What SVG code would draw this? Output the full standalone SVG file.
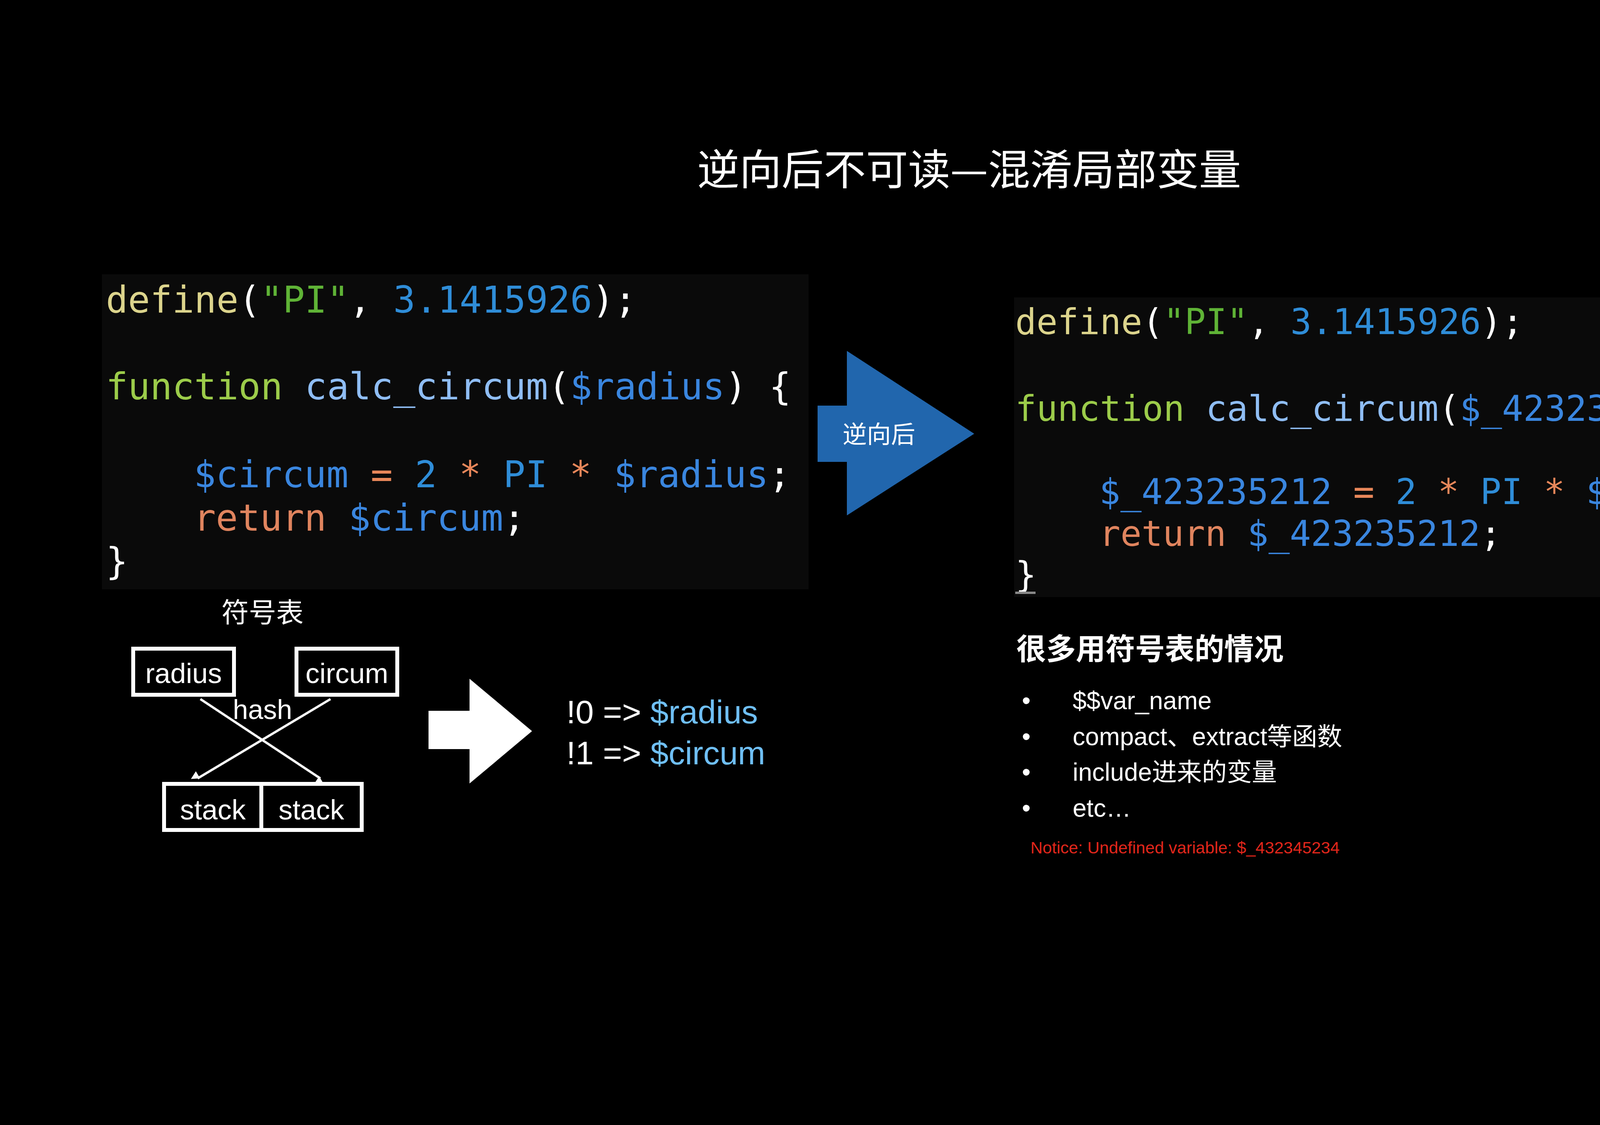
<svg xmlns="http://www.w3.org/2000/svg" width="5119" height="2879" viewBox="0 0 5119 2879">
<style>
.code{font-family:"DejaVu Sans Mono","Liberation Mono",monospace;white-space:pre}
.c1{font-size:94px}.c2{font-size:90px}
.w{fill:#ffffff}.def{fill:#dcd48c}.str{fill:#5fb336}.num{fill:#2f8dd8}.kw{fill:#9ccc4a}.fn{fill:#8fbdf4}.var{fill:#3a86df}.op{fill:#e8875a}.ret{fill:#e0845e}
.sans{font-family:"Liberation Sans","Noto Sans CJK SC",sans-serif}
.cjk{font-family:"Noto Sans CJK SC","Liberation Sans",sans-serif}
.box{fill:#000;stroke:#fff;stroke-width:10}
.lbl{font-size:72px;fill:#fff;text-anchor:middle}
</style>
<defs>
<marker id="ah" viewBox="0 0 10 10" refX="9" refY="5" markerWidth="6" markerHeight="6" orient="auto" markerUnits="userSpaceOnUse" style="overflow:visible">
<path d="M0,0 L10,5 L0,10 z" fill="#fff" transform="scale(3.5)"/>
</marker>
</defs>
<rect width="5119" height="2879" fill="#000"/>
<text id="title" x="2481" y="473" class="cjk" font-size="108" fill="#fff" text-anchor="middle">逆向后不可读—混淆局部变量</text>

<g id="code-left">
<rect x="261" y="702" width="1809" height="806" fill="#0a0a0a"/>
<text class="code c1" x="271" y="800"><tspan class="def">define</tspan><tspan class="w">(</tspan><tspan class="str">"PI"</tspan><tspan class="w">, </tspan><tspan class="num">3.1415926</tspan><tspan class="w">);</tspan></text>
<text class="code c1" x="271" y="1022"><tspan class="kw">function</tspan><tspan class="w"> </tspan><tspan class="fn">calc_circum</tspan><tspan class="w">(</tspan><tspan class="var">$radius</tspan><tspan class="w">) {</tspan></text>
<text class="code c1" x="496" y="1247"><tspan class="var">$circum</tspan><tspan class="w"> </tspan><tspan class="op">=</tspan><tspan class="w"> </tspan><tspan class="num">2</tspan><tspan class="w"> </tspan><tspan class="op">*</tspan><tspan class="w"> </tspan><tspan class="num">PI</tspan><tspan class="w"> </tspan><tspan class="op">*</tspan><tspan class="w"> </tspan><tspan class="var">$radius</tspan><tspan class="w">;</tspan></text>
<text class="code c1" x="496" y="1358"><tspan class="ret">return</tspan><tspan class="w"> </tspan><tspan class="var">$circum</tspan><tspan class="w">;</tspan></text>
<text class="code c1 w" x="271" y="1469">}</text>
</g>

<g id="code-right">
<rect x="2596" y="761" width="2138" height="767" fill="#0a0a0a"/>
<text class="code c2" x="2599" y="855"><tspan class="def">define</tspan><tspan class="w">(</tspan><tspan class="str">"PI"</tspan><tspan class="w">, </tspan><tspan class="num">3.1415926</tspan><tspan class="w">);</tspan></text>
<text class="code c2" x="2599" y="1077"><tspan class="kw">function</tspan><tspan class="w"> </tspan><tspan class="fn">calc_circum</tspan><tspan class="w">(</tspan><tspan class="var">$_423235211</tspan><tspan class="w">) {</tspan></text>
<text class="code c2" x="2814" y="1290"><tspan class="var">$_423235212</tspan><tspan class="w"> </tspan><tspan class="op">=</tspan><tspan class="w"> </tspan><tspan class="num">2</tspan><tspan class="w"> </tspan><tspan class="op">*</tspan><tspan class="w"> </tspan><tspan class="num">PI</tspan><tspan class="w"> </tspan><tspan class="op">*</tspan><tspan class="w"> </tspan><tspan class="var">$_423235211</tspan><tspan class="w">;</tspan></text>
<text class="code c2" x="2814" y="1397"><tspan class="ret">return</tspan><tspan class="w"> </tspan><tspan class="var">$_423235212</tspan><tspan class="w">;</tspan></text>
<text class="code c2 w" x="2599" y="1502">}</text>
<rect x="4446" y="1092" width="52" height="6" fill="#888"/>
<rect x="2599" y="1514" width="52" height="6" fill="#888"/>
</g>

<g id="arrow-reverse">
<polygon points="2093,1038 2168,1038 2168,898 2494,1110 2168,1319 2168,1182 2093,1182" fill="#2166ad"/>
<text x="2250" y="1134" class="cjk" font-size="62" fill="#fff" text-anchor="middle">逆向后</text>
</g>

<g id="symtab-label"><text x="672" y="1593" class="cjk" font-size="70" fill="#fff" text-anchor="middle">符号表</text></g>
<g id="node-radius"><rect class="box" x="341" y="1660" width="258" height="118"/><text class="sans lbl" x="470" y="1748">radius</text></g>
<g id="node-circum"><rect class="box" x="759" y="1660" width="258" height="118"/><text class="sans lbl" x="888" y="1748">circum</text></g>
<g id="node-stack1"><rect class="box" x="420" y="2006" width="249" height="118"/><text class="sans lbl" x="545" y="2097">stack</text></g>
<g id="node-stack2"><rect class="box" x="669" y="2006" width="257" height="118"/><text class="sans lbl" x="797" y="2097">stack</text></g>
<g id="connectors" stroke="#fff" stroke-width="6" fill="none">
<line x1="513" y1="1789" x2="820" y2="1992" marker-end="url(#ah)"/>
<line x1="846" y1="1789" x2="506" y2="1992" marker-end="url(#ah)"/>
</g>
<text x="672" y="1840" class="sans" font-size="70" fill="#fff" text-anchor="middle">hash</text>

<g id="arrow-white"><polygon points="1097,1819 1202,1819 1202,1737 1362,1871 1202,2005 1202,1917 1097,1917" fill="#fff"/></g>

<g id="mapping" class="sans" font-size="84">
<text x="1450" y="1851" fill="#fff">!0 =&gt; <tspan fill="#6fbff5">$radius</tspan></text>
<text x="1450" y="1956" fill="#fff">!1 =&gt; <tspan fill="#6fbff5">$circum</tspan></text>
</g>

<g id="cases">
<text x="2602" y="1688" class="cjk" font-size="76" font-weight="bold" fill="#fff">很多用符号表的情况</text>
<g class="sans" font-size="64" fill="#fff">
<text x="2616" y="1815">•</text><text x="2746" y="1815">$$var_name</text>
<text x="2616" y="1907">•</text><text x="2746" y="1907">compact、extract等函数</text>
<text x="2616" y="1998">•</text><text x="2746" y="1998">include进来的变量</text>
<text x="2616" y="2090">•</text><text x="2746" y="2090">etc…</text>
</g>
<text x="2638" y="2184" class="sans" font-size="43" fill="#e0261b">Notice: Undefined variable: $_432345234</text>
</g>
</svg>
